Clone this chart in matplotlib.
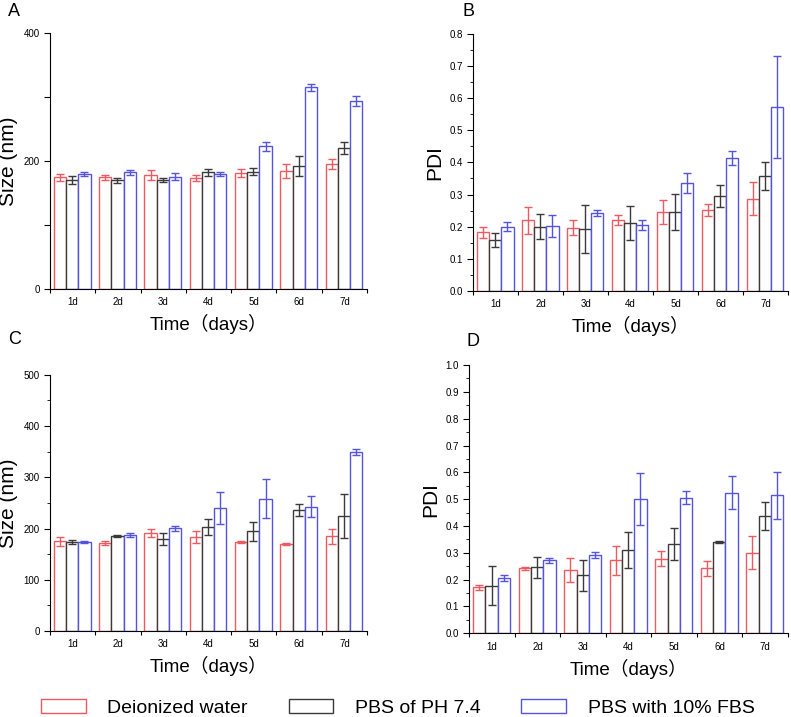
import numpy as np
import matplotlib.pyplot as plt
from matplotlib.patches import Patch
from matplotlib.ticker import MultipleLocator, FixedLocator, NullFormatter

plt.rcParams['font.family'] = ['Liberation Sans', 'Noto Sans CJK SC', 'DejaVu Sans']

days = ['1d', '2d', '3d', '4d', '5d', '6d', '7d']
series = ['Deionized water', 'PBS of PH 7.4', 'PBS with 10% FBS']
colors = ['#EE5A5F', '#3A3A3A', '#5454E0']

# A: size (nm)
a_water = [174.7, 175, 178, 174, 181.5, 184, 195.6]
a_water_err = [6, 4, 8, 5, 6, 11, 8]
a_pbs = [170.5, 170, 170.5, 182.5, 183.6, 192.4, 220.6]
a_pbs_err = [6, 4, 3, 5, 6, 15, 9]
a_fbs = [180, 182.5, 176, 179.4, 223.7, 315.5, 294.7]
a_fbs_err = [3, 4, 6, 3, 7, 5, 8]

# B: PDI
b_water = [0.182, 0.22, 0.197, 0.22, 0.245, 0.251, 0.287]
b_water_err = [0.018, 0.042, 0.024, 0.015, 0.038, 0.018, 0.052]
b_pbs = [0.158, 0.2, 0.191, 0.212, 0.245, 0.295, 0.358]
b_pbs_err = [0.021, 0.04, 0.075, 0.053, 0.057, 0.034, 0.043]
b_fbs = [0.2, 0.201, 0.243, 0.206, 0.335, 0.414, 0.574]
b_fbs_err = [0.013, 0.034, 0.01, 0.016, 0.031, 0.022, 0.159]

# C: size (nm)
c_water = [174.9, 172.3, 191.2, 184, 173.6, 170.4, 184.7]
c_water_err = [9, 4, 7.5, 12, 2, 2, 14]
c_pbs = [173.6, 184.7, 179.5, 203.5, 194.4, 236.7, 223.7]
c_pbs_err = [3, 2, 11, 16, 18, 11.5, 43]
c_fbs = [173.6, 186.6, 200.3, 240.6, 258, 242.5, 349]
c_fbs_err = [2, 4, 5.5, 31, 38, 21, 6]

# D: PDI
d_water = [0.171, 0.243, 0.237, 0.272, 0.278, 0.242, 0.3]
d_water_err = [0.009, 0.006, 0.045, 0.055, 0.027, 0.028, 0.062]
d_pbs = [0.178, 0.246, 0.217, 0.309, 0.333, 0.339, 0.437]
d_pbs_err = [0.073, 0.04, 0.058, 0.067, 0.059, 0.004, 0.053]
d_fbs = [0.207, 0.272, 0.291, 0.499, 0.506, 0.524, 0.514]
d_fbs_err = [0.012, 0.01, 0.012, 0.097, 0.025, 0.062, 0.087]

fig = plt.figure(figsize=(7.91, 7.17), dpi=100)


def panel(rect, vals, errs, ylabel, ymax, major, minor, letter, letter_xy, label_every=None):
    ax = fig.add_axes(rect)
    x = np.arange(1, len(days) + 1)
    w = 0.27
    for k, (v, e, c) in enumerate(zip(vals, errs, colors)):
        xs = x + (k - 1) * w - 0.01
        ax.bar(xs, v, width=w, facecolor='white', edgecolor=c, linewidth=1.0)
        ax.errorbar(xs, v, yerr=e, fmt='none', ecolor=c, elinewidth=1.0, capsize=3, capthick=1.0)
    ax.set_xlim(0.5, len(days) + 0.5)
    ax.set_ylim(0, ymax)
    # ticks sit between the day groups, labels in the middle
    ax.xaxis.set_major_locator(FixedLocator(np.arange(0.5, len(days) + 1)))
    ax.xaxis.set_major_formatter(NullFormatter())
    ax.xaxis.set_minor_locator(FixedLocator(x))
    ax.set_xticklabels(days, minor=True)
    ax.tick_params(axis='x', which='minor', length=0, labelsize=7, pad=6)
    ax.tick_params(axis='x', which='major', length=3, direction='out')
    ax.yaxis.set_major_locator(MultipleLocator(major))
    ax.yaxis.set_minor_locator(MultipleLocator(minor))
    ax.tick_params(axis='y', which='major', length=4, labelsize=7)
    ax.tick_params(axis='y', which='minor', length=2)
    if label_every:
        ax.yaxis.set_major_formatter(
            plt.FuncFormatter(lambda v, p: f'{v:g}' if round(v) % label_every == 0 else ''))
    else:
        ax.yaxis.set_major_formatter(plt.FuncFormatter(lambda v, p: f'{v:.1f}'))
    for s in ['top', 'right']:
        ax.spines[s].set_visible(False)
    ax.set_ylabel(ylabel, fontsize=15)
    ax.set_xlabel('Time（days）', fontsize=13.5, labelpad=5)
    fig.text(letter_xy[0] / 791, 1 - letter_xy[1] / 717, letter, fontsize=13, va='center', ha='left')
    return ax


axA = panel([0.0632, 0.5969, 0.4008, 0.3566], [a_water, a_pbs, a_fbs],
            [a_water_err, a_pbs_err, a_fbs_err], 'Size (nm)', 400, 100, 100, 'A', (8, 11), label_every=200)
axA.yaxis.set_minor_locator(plt.NullLocator())
axB = panel([0.5984, 0.5946, 0.3978, 0.3576], [b_water, b_pbs, b_fbs],
            [b_water_err, b_pbs_err, b_fbs_err], 'PDI', 0.8, 0.1, 0.05, 'B', (463, 11))
axC = panel([0.0632, 0.1199, 0.4008, 0.3575], [c_water, c_pbs, c_fbs],
            [c_water_err, c_pbs_err, c_fbs_err], 'Size (nm)', 500, 100, 50, 'C', (8, 340),
            label_every=100)
axD = panel([0.5933, 0.1167, 0.4029, 0.3742], [d_water, d_pbs, d_fbs],
            [d_water_err, d_pbs_err, d_fbs_err], 'PDI', 1.0, 0.1, 0.05, 'D', (466, 342))

handles = [Patch(facecolor='white', edgecolor=c, linewidth=1.0) for c in colors]
fig.legend(handles, series, loc='center', bbox_to_anchor=(0.503, 1 - 708 / 717), ncol=3,
           frameon=False, fontsize=14, handlelength=2.3, handleheight=0.67,
           handletextpad=1.1, columnspacing=2.1, borderpad=0.1)

fig.savefig('out.png', dpi=100)
